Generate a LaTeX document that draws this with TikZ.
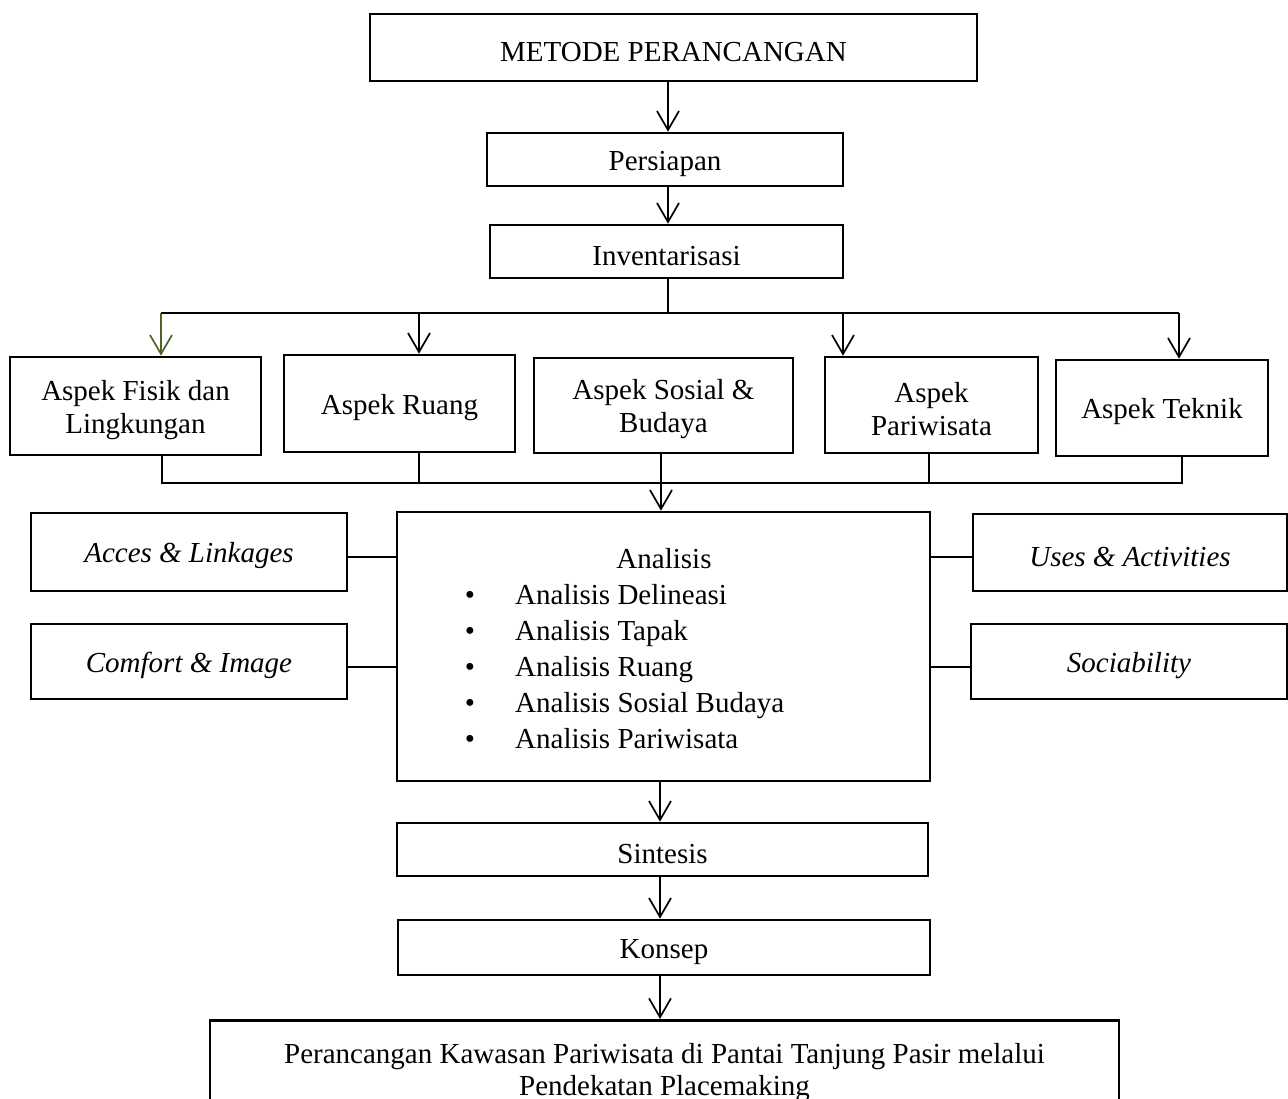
\documentclass[tikz,border=0pt]{standalone}
\usepackage{fontspec}
\setmainfont{Liberation Serif}
\usetikzlibrary{arrows.meta}
\definecolor{leafgreen}{RGB}{79,98,40}
% invisible strut giving the first line of a box a little more room above
\newcommand\hdstrut{\rule{0pt}{28pt}}
\begin{document}
\begin{tikzpicture}[x=1pt,y=-1pt,
  font=\fontsize{29pt}{33pt}\selectfont,
  box/.style={draw, line width=2.6pt, inner sep=0pt, align=center},
  link/.style={line width=1.7pt},
  arr/.style={link, -{Straight Barb[length=19pt,width=22pt]}},
]
\clip (0,0) rectangle (1288,1099);

% main column
\node[box, minimum width=607pt, minimum height=67pt] (metode) at (673.5,47.5) {\hdstrut METODE PERANCANGAN};
\node[box, minimum width=356pt, minimum height=53pt] (persiapan) at (665,159.5) {\hdstrut Persiapan};
\node[box, minimum width=353pt, minimum height=53pt] (inv) at (666.5,251.5) {\hdstrut Inventarisasi};

% aspects row
\node[box, minimum width=251pt, minimum height=98pt] (fisik) at (135.5,406) {\hdstrut Aspek Fisik dan\\Lingkungan};
\node[box, minimum width=231pt, minimum height=97pt] (ruang) at (399.5,403.5) {\hdstrut Aspek Ruang};
\node[box, minimum width=259pt, minimum height=95pt] (sosial) at (663.5,405.5) {\hdstrut Aspek Sosial \&\\Budaya};
\node[box, minimum width=213pt, minimum height=96pt] (pariwisata) at (931.5,405) {\hdstrut Aspek\\Pariwisata};
\node[box, minimum width=212pt, minimum height=96pt] (teknik) at (1162,408) {\hdstrut Aspek Teknik};

% analysis block and placemaking criteria
\node[box, minimum width=533pt, minimum height=269pt] (analisis) at (663.5,646.5) {};
\node[box, minimum width=316pt, minimum height=78pt] (acces) at (189,552) {\hdstrut\textit{Acces \& Linkages}};
\node[box, minimum width=316pt, minimum height=75pt] (comfort) at (189,661.5) {\hdstrut\textit{Comfort \& Image}};
\node[box, minimum width=314pt, minimum height=77pt] (uses) at (1130,552.5) {\hdstrut\textit{Uses \& Activities}};
\node[box, minimum width=316pt, minimum height=75pt] (sociab) at (1129,661.5) {\hdstrut\textit{Sociability}};

\node[anchor=base] (anatitle) at (664,568) {Analisis};
\foreach \t [count=\i] in {Analisis Delineasi, Analisis Tapak, Analisis Ruang, Analisis Sosial Budaya, Analisis Pariwisata}{
  \node[anchor=base] (dot\i) at (470,568+36*\i) {\textbullet};
  \node[anchor=base west, inner xsep=0pt] (item\i) at (515,568+36*\i) {\t};
}

\node[box, minimum width=531pt, minimum height=53pt] (sintesis) at (662.5,849.5) {\hdstrut Sintesis};
\node[box, minimum width=532pt, minimum height=55pt] (konsep) at (664,947.5) {\hdstrut Konsep};
\node[box, anchor=north, minimum width=909pt, inner ysep=23pt,
      font=\fontsize{29pt}{32pt}\selectfont] (final) at (664.5,1019)
  {Perancangan Kawasan Pariwisata di Pantai Tanjung Pasir melalui\\Pendekatan Placemaking};

% connectors
\coordinate (spine) at (668,0);
\coordinate (lowspine) at (660,0);
\draw[arr] (metode.south -| spine) -- (persiapan.north -| spine);
\draw[arr] (persiapan.south -| spine) -- (inv.north -| spine);

\coordinate (split) at (668,313);
\coordinate (tA) at (161,313);
\coordinate (tB) at (419,313);
\coordinate (tC) at (843,313);
\coordinate (tD) at (1179,313);
\draw[link] (inv.south -| split) -- (split);
\draw[link] (tA) -- (tD);
\draw[arr, leafgreen] (tA) -- (tA |- fisik.north);
\draw[arr] (tB) -- (tB |- ruang.north);
\draw[arr] (tC) -- (tC |- pariwisata.north);
\draw[arr] (tD) -- (tD |- teknik.north);

\coordinate (bA) at (162,483);
\coordinate (bB) at (419,483);
\coordinate (bC) at (661,483);
\coordinate (bD) at (929,483);
\coordinate (bE) at (1182,483);
\draw[link] (fisik.south -| bA) -- (bA) -- (bE) -- (teknik.south -| bE);
\draw[link] (ruang.south -| bB) -- (bB);
\draw[link] (sosial.south -| bC) -- (bC);
\draw[link] (pariwisata.south -| bD) -- (bD);
\draw[arr] (bC) -- (analisis.north -| bC);

\coordinate (hA) at (0,557);
\coordinate (hB) at (0,667);
\draw[link] (acces.east |- hA) -- (analisis.west |- hA);
\draw[link] (comfort.east |- hB) -- (analisis.west |- hB);
\draw[link] (analisis.east |- hA) -- (uses.west |- hA);
\draw[link] (analisis.east |- hB) -- (sociab.west |- hB);

\draw[arr] (analisis.south -| lowspine) -- (sintesis.north -| lowspine);
\draw[arr] (sintesis.south -| lowspine) -- (konsep.north -| lowspine);
\draw[arr] (konsep.south -| lowspine) -- (final.north -| lowspine);
\end{tikzpicture}
\end{document}
